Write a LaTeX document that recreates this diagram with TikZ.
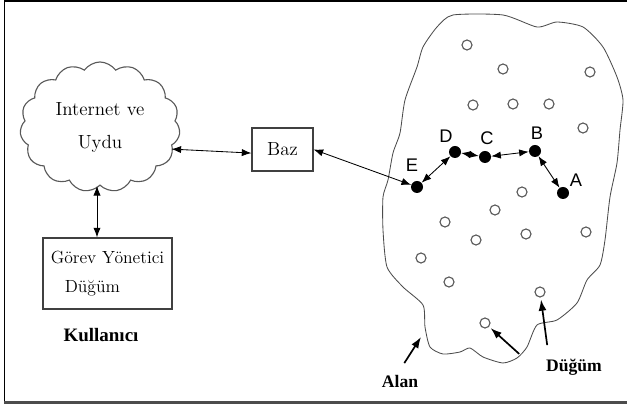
\documentclass[tikz,border=0pt]{standalone}
\usepackage{fontspec}
\newfontfamily\letterfont{Liberation Sans}
\newfontfamily\captionfont{Liberation Serif}
\usetikzlibrary{shapes.symbols, arrows.meta}
\tikzstyle{netcloud} = [cloud, cloud puffs=15, cloud puff arc=110, aspect=1.22, minimum width=4cm, minimum height=3.25cm, draw=black!65, thick, align=center, font=\fontsize{13.5}{23.5}\selectfont]
\tikzstyle{process} = [rectangle, draw=black!75, thick, font=\fontsize{12.5}{20.5}\selectfont]
\tikzstyle{sensor} = [circle, draw=black!65, thick, inner sep=0pt, minimum size=0.25cm]
\tikzstyle{active} = [circle, fill=black, inner sep=0pt, minimum size=0.3cm]
\tikzstyle{letter} = [font=\letterfont\fontsize{13}{13}\selectfont]
\tikzstyle{caption} = [font=\captionfont\bfseries\fontsize{12.5}{13}\selectfont]
\tikzstyle{arrow} = [{Latex[length=2.4mm,width=1.8mm]}-{Latex[length=2.4mm,width=1.8mm]}, semithick]
\tikzstyle{pointer} = [-{Latex[length=2.8mm,width=2mm]}, very thick]

\begin{document}
\begin{tikzpicture}[x=0.025cm, y=-0.025cm]
\useasboundingbox (0,0) rectangle (627,405);

%frame
\draw [line width=1.2pt] (4.5,403) -- (4.5,1) -- (627,1);
\draw [black!70, line width=2pt] (4,402.5) -- (627,402.5);

%user side
\node (inet) [netcloud] at (100,127) {Internet ve\\Uydu};
\node (gorev) [process, minimum width=3.225cm, minimum height=1.775cm, align=left] at (107.5,273.5) {G\"orev Y\"onetici\\\hspace*{3.5mm}D\"u\u{g}\"um};
\node (user) [caption, font=\captionfont\bfseries\fontsize{13.5}{14}\selectfont] at (101,335) {Kullan\i c\i};
\node (baz) [process, minimum width=1.525cm, minimum height=1.075cm, font=\fontsize{13.5}{14}\selectfont] at (282.5,149.5) {Baz};

%field
\draw [black!70, semithick] plot [smooth cycle, tension=0.4] coordinates {
(453,15) (503,15) (537,27) (557,22) (583,27) (603,47) (617,77) (623,100)
(620,130) (617,163) (610,197) (605,240) (600,265) (587,280) (577,303)
(557,320) (537,325) (527,347) (517,358) (503,363) (483,357) (470,348)
(460,352) (443,354) (430,347) (425,327) (423,305) (403,287) (387,267)
(383,230) (383,197) (388,180) (393,153) (400,133) (405,100) (417,67)
(423,47) (437,27)};
\coordinate (edge) at (421,337);

%idle nodes
\foreach \x/\y [count=\i] in {467/45, 503/69, 590/72, 473/105, 513/104, 549/104, 583/128,
  522/192, 495/210, 445/222, 476/240, 526/234, 586/232, 421/258, 449/282, 540/292, 485/323}
  \node (s\i) [sensor] at (\x,\y) {};

%route
\node (E) [active] at (417,187) {};
\node (D) [active] at (455,152) {};
\node (C) [active] at (485,157) {};
\node (B) [active] at (535,151) {};
\node (A) [active] at (563,193) {};
\node [letter] at (412,165) {E};
\node [letter] at (446,136) {D};
\node [letter] at (487,138) {C};
\node [letter] at (537,133) {B};
\node [letter] at (576,180) {A};

%labels
\node (alan) [caption] at (400,381) {Alan};
\node (dugum) [caption] at (574,367) {D\"u\u{g}\"um};

%arrows
\draw [arrow] ([xshift=-0.075cm]inet.south) -- ([xshift=-0.075cm]inet.south |- gorev.north);
\draw [arrow, shorten <=-0.2cm] (baz.west -| inet.east) -- ([yshift=-0.09cm]baz.west);
\draw [arrow] (baz.east) -- (E);
\draw [arrow] (E) -- (D);
\draw [arrow] (D) -- (C);
\draw [arrow] (C) -- (B);
\draw [arrow] (B) -- (A);
\draw [pointer, shorten <=0.2cm] (alan.north) -- (edge);
\draw [pointer, shorten >=0.05cm] ([xshift=-0.55cm]dugum.north west) -- (s17);
\draw [pointer, shorten >=0.05cm] ([shift={(0.15cm,0.22cm)}]dugum.north west) -- (s16);

\end{tikzpicture}
\end{document}
